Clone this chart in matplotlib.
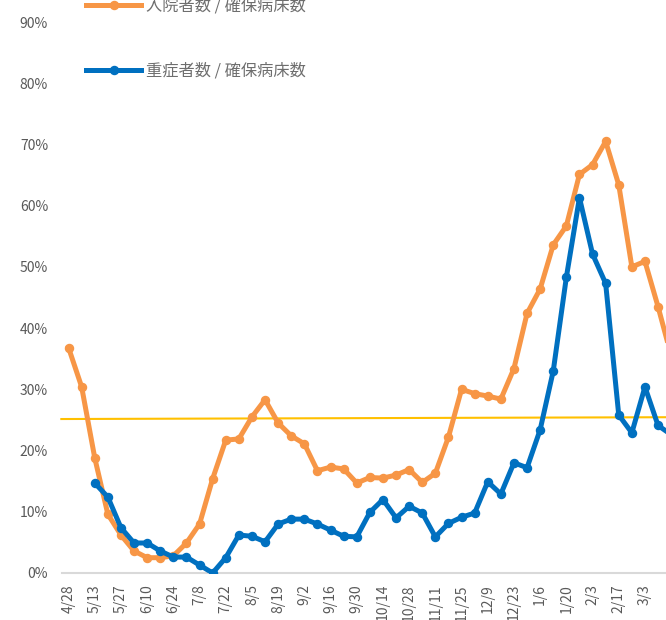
import numpy as np
import matplotlib
matplotlib.use("Agg")
import matplotlib.pyplot as plt
from matplotlib.ticker import PercentFormatter

plt.rcParams['font.family'] = ['Noto Sans CJK JP', 'DejaVu Sans']

# 週ごとの日付（3/17 は右端で切れている）
fechas = ['4/28', '5/6', '5/13', '5/20', '5/27', '6/3', '6/10', '6/17', '6/24', '7/1',
          '7/8', '7/15', '7/22', '7/29', '8/5', '8/12', '8/19', '8/26', '9/2', '9/9',
          '9/16', '9/23', '9/30', '10/7', '10/14', '10/21', '10/28', '11/4', '11/11', '11/18',
          '11/25', '12/2', '12/9', '12/16', '12/23', '12/30', '1/6', '1/13', '1/20', '1/27',
          '2/3', '2/10', '2/17', '2/24', '3/3', '3/10', '3/17']

# 入院者数 / 確保病床数 (%)
nyuin = [36.8, 30.4, 18.8, 9.6, 6.2, 3.6, 2.5, 2.5, 2.8, 4.9,
         8.0, 15.4, 21.7, 21.9, 25.5, 28.3, 24.5, 22.4, 21.1, 16.7,
         17.3, 17.0, 14.7, 15.6, 15.5, 16.0, 16.9, 14.8, 16.3, 22.2,
         30.0, 29.3, 28.9, 28.4, 33.4, 42.4, 46.4, 53.6, 56.7, 65.1,
         66.7, 70.5, 63.4, 50.0, 50.9, 43.5, 35.5]

# 重症者数 / 確保病床数 (%)
jusho = [np.nan, np.nan, 14.7, 12.4, 7.4, 4.9, 4.9, 3.6, 2.6, 2.6,
         1.3, 0.0, 2.5, 6.2, 6.0, 5.1, 8.0, 8.8, 8.8, 8.0,
         7.0, 6.0, 5.9, 9.9, 12.0, 9.0, 10.9, 9.8, 5.9, 8.1,
         9.1, 9.8, 14.9, 12.9, 18.0, 17.2, 23.4, 33.0, 48.3, 61.3,
         52.1, 47.3, 25.8, 22.9, 30.4, 24.1, 22.6]

# 基準線（ほぼ水平の黄色線）
umbral = [25.15, 25.45]

# 見えている目盛りラベル（2週ごと、3/3 まで）
tick_labels = fechas[:45:2]

x = np.arange(len(fechas))

fig = plt.figure(figsize=(6.66, 6.2), dpi=100)
ax = fig.add_axes([62 / 666, 47 / 620, len(fechas) * 13.1 / 666, 551 / 620])

ax.plot([-0.55, len(fechas) - 0.5], umbral, color='#FFC000', lw=1.5, zorder=1,
        clip_on=False)
ax.plot(x, nyuin, color='#F79646', lw=3.6, marker='o', ms=5.8,
        solid_joinstyle='round', label='入院者数 / 確保病床数', zorder=2)
ax.plot(x, jusho, color='#0070C0', lw=3.6, marker='o', ms=5.8,
        solid_joinstyle='round', label='重症者数 / 確保病床数', zorder=3)

ax.set_xlim(-0.5, len(fechas) - 0.5)
ax.set_ylim(0, 90)
ax.set_yticks(np.arange(0, 91, 10))
ax.yaxis.set_major_formatter(PercentFormatter(decimals=0))
ax.set_xticks(x[:45:2])
ax.set_xticklabels(tick_labels, rotation=90, va='top', ha='center')

for s in ['top', 'right', 'left']:
    ax.spines[s].set_visible(False)
ax.spines['bottom'].set_color('#D9D9D9')
ax.spines['bottom'].set_linewidth(1.5)
ax.tick_params(axis='both', length=0, labelcolor='#595959', labelsize=10)
ax.tick_params(axis='y', pad=10)
ax.tick_params(axis='x', pad=8)

leg = fig.legend(loc='center left', bbox_to_anchor=(86 / 666, 1 - 38.5 / 620),
                 frameon=False, fontsize=11.7, handlelength=3.4, handletextpad=0.3,
                 labelspacing=2.95, borderpad=0, borderaxespad=0)
for t in leg.get_texts():
    t.set_color('#6E6E6E')

fig.savefig('out.png', dpi=100)
